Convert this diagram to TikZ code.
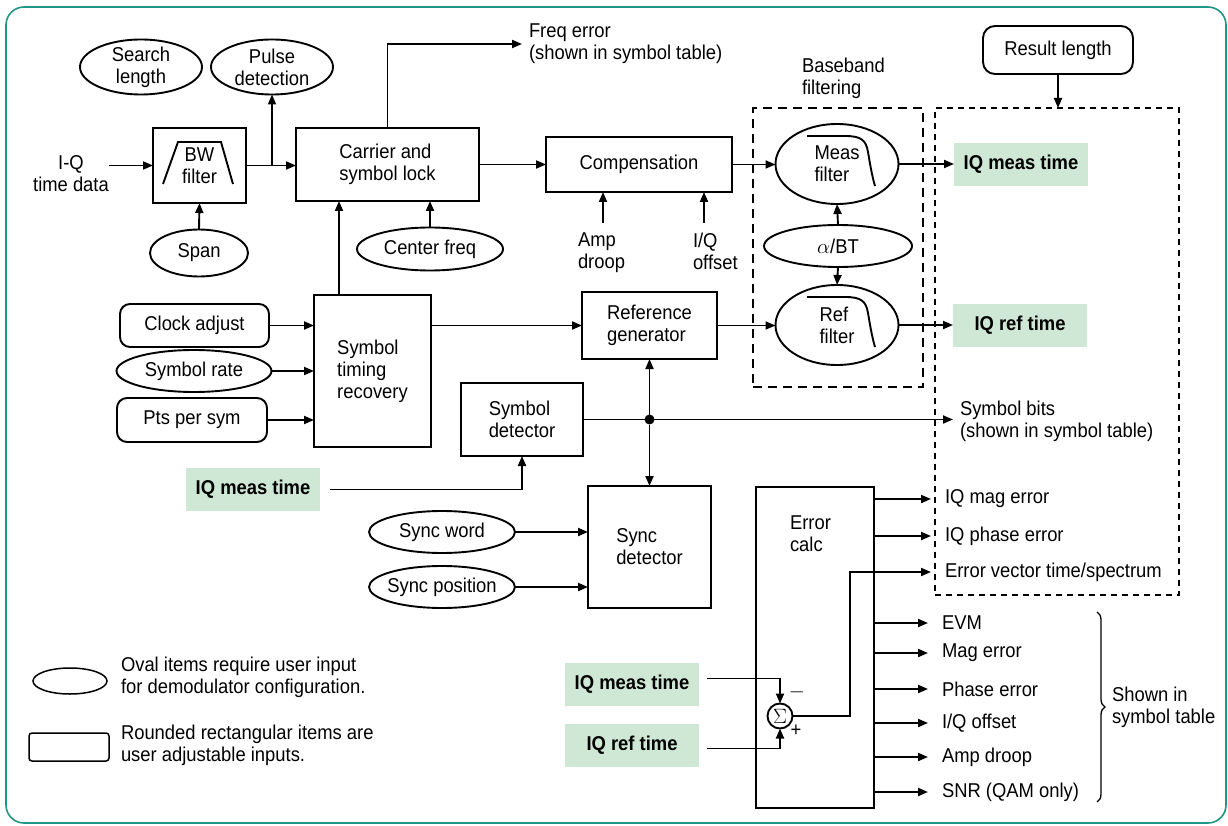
\documentclass[tikz,border=0pt]{standalone}
\usepackage{fontspec}
\setmainfont{Liberation Sans}[FakeStretch=0.92]
\usetikzlibrary{shapes.geometric,arrows.meta,calc,decorations.pathreplacing}
\definecolor{frameteal}{RGB}{30,152,132}
\definecolor{iqgreen}{RGB}{207,232,213}
\begin{document}
\begin{tikzpicture}[x=1pt,y=-1pt,
  every node/.style={font=\fontsize{20}{22}\selectfont, inner sep=0pt, outer sep=0pt},
  lw/.style={line width=1.9pt},
  arr/.style={lw, -{Triangle[length=10pt,width=8pt]}},
  blk/.style={draw, lw, rectangle, align=left},
  oval/.style={draw, lw, ellipse, inner sep=-6pt, align=center},
  rbox/.style={draw, lw, rectangle, rounded corners=10pt, align=center},
  iqbox/.style={fill=iqgreen, rectangle, minimum width=134pt, minimum height=43pt, font=\fontsize{20}{22}\selectfont\bfseries},
  dashA/.style={draw, lw, dash pattern=on 9pt off 6pt},
  dashB/.style={draw, line width=1.6pt, dash pattern=on 6pt off 5pt},
]
\useasboundingbox (0,0) rectangle (1228,826);
\draw[frameteal, line width=1.6pt, rounded corners=18pt] (6,7) rectangle (1226,823);

% ---- top row
\node[oval, minimum width=122pt, minimum height=55pt] (search) at (141,67) {Search\\length};
\node[oval, minimum width=122pt, minimum height=55pt] (pulse) at (272,67) {Pulse\\detection};
\node[align=center] (iq) at (71,174) {I-Q\\time data};
\node[blk, align=center, minimum width=93pt, minimum height=75pt] (bw) at (199.5,165.5) {BW\\filter};
\draw[lw] ($(bw.center)+(-36.5,18.5)$) -- ++(15,-42) -- ++(43,0) -- ++(12,42);
\node[oval, minimum width=98pt, minimum height=47pt] (span) at (199,253) {Span};
\node[blk, minimum width=183pt, minimum height=73pt] (carrier) at (387.5,164.5) {Carrier and\\symbol lock};
\node[oval, minimum width=146pt, minimum height=43pt] (cfreq) at (430,249) {Center freq};
\node[align=left, anchor=west] (freq) at (529,44) {Freq error\\(shown in symbol table)};
\node[blk, align=center, minimum width=186pt, minimum height=55pt] (comp) at (639,164.5) {Compensation};
\node[align=left, anchor=north west] (amp) at (578,233) {Amp\\droop};
\node[align=left, anchor=north west] (iqo) at (693,233) {I/Q\\offset};
\coordinate (ampTop) at ($(amp.north west)+(25,-10)$);
\coordinate (iqoTop) at ($(iqo.north west)+(11,-10)$);

% ---- baseband filtering
\node[align=left, anchor=west] (bbl) at (802,78.5) {Baseband\\filtering};
\node[dashA, minimum width=170pt, minimum height=279pt] (bbbox) at (838,247.5) {};
\node[oval, align=left, minimum width=123pt, minimum height=80pt] (meas) at (837,164) {Meas\\filter};
\node[oval, minimum width=148pt, minimum height=42pt] (abt) at (838,246) {$\alpha$/BT};
\node[oval, align=left, minimum width=123pt, minimum height=80pt] (reff) at (837,325) {Ref\\filter};
\foreach \n in {meas,reff}
  \draw[lw] ($(\n.center)+(-30,-28)$) -- ($(\n.center)+(8,-28)$)
    .. controls ($(\n.center)+(24,-28)$) and ($(\n.center)+(29,-24)$) .. ($(\n.center)+(31,-12)$)
    .. controls ($(\n.center)+(33,0)$) and ($(\n.center)+(35,12)$) .. ($(\n.center)+(38,22)$);

% ---- results
\node[rbox, rounded corners=12pt, minimum width=150pt, minimum height=48pt] (reslen) at (1058,50) {Result length};
\node[dashB, minimum width=244pt, minimum height=487pt] (resbox) at (1057,351.5) {};
\node[iqbox] (iqm) at (1021,164.5) {IQ meas time};
\node[iqbox] (iqr) at (1020,325.5) {IQ ref time};

% ---- middle
\node[rbox, minimum width=149pt, minimum height=43pt] (clock) at (194.5,325.5) {Clock adjust};
\node[oval, minimum width=155pt, minimum height=42pt] (symrate) at (194,371) {Symbol rate};
\node[rbox, minimum width=150pt, minimum height=44pt] (pts) at (192,420) {Pts per sym};
\node[blk, minimum width=117pt, minimum height=152pt] (stm) at (372.5,371) {Symbol\\timing\\recovery};
\node[blk, minimum width=135pt, minimum height=67pt] (refgen) at (649.5,325.5) {Reference\\generator};
\node[blk, minimum width=122pt, minimum height=73pt] (symdet) at (522,419.5) {Symbol\\detector};
\node[circle, fill, minimum size=10pt] (dot) at (649.5,419.5) {};
\node[align=left, anchor=west] (sbits) at (960,421) {Symbol bits\\(shown in symbol table)};
\coordinate (sbTip) at ($(sbits.west)+(-7,0)$);
\node[iqbox] (iqml) at (253,489.5) {IQ meas time};
\node[oval, minimum width=146pt, minimum height=42pt] (sw) at (442,532) {Sync word};
\node[oval, minimum width=146pt, minimum height=42pt] (sp) at (442,587) {Sync position};
\node[blk, minimum width=123pt, minimum height=122pt] (sync) at (649.5,547) {Sync\\detector};

% ---- error calc
\node[blk, minimum width=118pt, minimum height=321pt] (ec) at (815,647.5) {};
\node[align=left, anchor=west] (ect) at (790,534) {Error\\calc};
\node[anchor=west] (o1) at (945,499) {IQ mag error};
\node[anchor=west] (o2) at (945,536) {IQ phase error};
\node[anchor=west] (o3) at (945,572) {Error vector time/spectrum};
\node[anchor=west] (e1) at (942,623) {EVM};
\node[anchor=west] (e2) at (942,653) {Mag error};
\node[anchor=west] (e3) at (942,689) {Phase error};
\node[anchor=west] (e4) at (942,723) {I/Q offset};
\node[anchor=west] (e5) at (942,757) {Amp droop};
\node[anchor=west] (e6) at (942,792) {SNR (QAM only)};
\draw[line width=1.3pt, decorate, decoration={brace, amplitude=8pt}] (1097,612) -- (1097,802);
\node[align=left, anchor=west] (shown) at (1112,707.5) {Shown in\\symbol table};

\node[draw, lw, circle, minimum size=25pt] (sig) at (780,716) {\fontsize{20}{20}\selectfont$\Sigma$};
\node[font=\fontsize{20}{20}\selectfont] (minus) at (797,692) {$-$};
\node[font=\fontsize{20}{20}\selectfont] (plus) at (796,731) {+};
\node[iqbox] (iqmb) at (632,684.5) {IQ meas time};
\node[iqbox] (iqrb) at (632,745.5) {IQ ref time};

% ---- legend
\node[draw, line width=1.5pt, ellipse, minimum width=74pt, minimum height=26pt] (legov) at (70,681) {};
\node[align=left, anchor=west] (legovt) at (121,677.5) {Oval items require user input\\for demodulator configuration.};
\node[draw, line width=1.5pt, rounded corners=3pt, minimum width=80pt, minimum height=28pt] (legrr) at (69,747) {};
\node[align=left, anchor=west] (legrrt) at (121,745.5) {Rounded rectangular items are\\user adjustable inputs.};

% ---- connectors
\draw[arr] (iq.east |- bw.west) -- (bw.west);
\draw[arr] (bw.east) -- (bw.east -| carrier.west);
\draw[arr] (bw.east -| pulse.south) -- (pulse.south);
\draw[arr] (span.north) -- (bw.south);
\draw[arr] (carrier.north) |- ($(freq.west)+(-7,0)$);
\draw[arr] (cfreq.north) -- (cfreq.north |- carrier.south);
\coordinate (stmTop) at ($(stm.north)+(-33.5,0)$);
\draw[arr] (stmTop) -- (stmTop |- carrier.south);
\draw[arr] (carrier.east) -- (comp.west);
\draw[arr] (ampTop) -- (ampTop |- comp.south);
\draw[arr] (iqoTop) -- (iqoTop |- comp.south);
\draw[arr] (comp.east) -- (comp.east -| meas.west);
\draw[arr] (meas.east) -- (meas.east -| iqm.west);
\draw[arr] (abt.north) -- (meas.south);
\draw[arr] (abt.south) -- (reff.north);
\draw[arr] (reslen.south) -- (reslen.south |- resbox.north);
\draw[arr] (refgen.east) -- (refgen.east -| reff.west);
\draw[arr] (reff.east) -- (reff.east -| iqr.west);
\draw[arr] (stm.east |- refgen.west) -- (refgen.west);
\draw[arr] (clock.east) -- (clock.east -| stm.west);
\draw[arr] (symrate.east) -- (symrate.east -| stm.west);
\draw[arr] (pts.east) -- (pts.east -| stm.west);
\draw[arr] (symdet.east) -- (symdet.east -| sbTip);
\draw[arr] (dot) -- (refgen.south);
\draw[arr] (dot) -- (sync.north);
\draw[arr] ($(iqml.east)+(10,0)$) -| (symdet.south);
\draw[arr] (sw.east) -- (sw.east -| sync.west);
\draw[arr] (sp.east) -- (sp.east -| sync.west);
\foreach \o in {o1,o2,e1,e2,e3,e4,e5,e6}
  \draw[arr] (ec.east |- \o.west) -- ($(\o.west)+(-14,0)$);
\draw[arr] (sig.east) -| ($(o3.west)+(-95,0)$) -- ($(o3.west)+(-14,0)$);
\draw[arr] ($(iqmb.east)+(8,-6)$) -| (sig.north);
\draw[arr] ($(iqrb.east)+(8,3)$) -| (sig.south);
\end{tikzpicture}
\end{document}
